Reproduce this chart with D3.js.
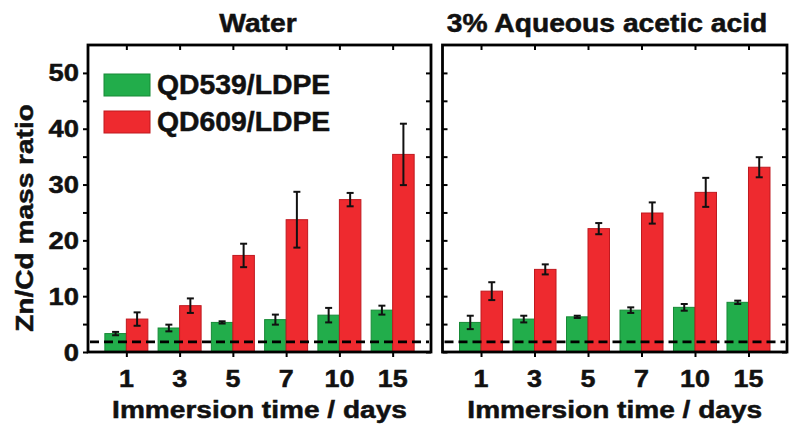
<!DOCTYPE html>
<html><head><meta charset="utf-8">
<script src="https://cdn.jsdelivr.net/npm/d3@7"></script>
<style>body{margin:0;background:#fff}</style></head>
<body><svg id="c" width="800" height="430"></svg>
<script>
const categories = ["1","3","5","7","10","15"];
const panelTitles = ["Water","3% Aqueous acetic acid"];
const seriesNames = ["QD539/LDPE","QD609/LDPE"];
const waterQD539 = [3.3,4.3,5.3,5.8,6.6,7.5];
const waterQD539Err = [0.3,0.6,0.2,0.9,1.3,0.8];
const waterQD609 = [5.9,8.3,17.3,23.7,27.3,35.4];
const waterQD609Err = [1.2,1.3,2.1,5.0,1.2,5.5];
const acidQD539 = [5.3,5.9,6.3,7.5,8.0,8.9];
const acidQD539Err = [1.2,0.6,0.2,0.5,0.6,0.3];
const acidQD609 = [10.9,14.8,22.1,24.9,28.6,33.1];
const acidQD609Err = [1.6,0.9,1.0,1.9,2.6,1.8];
const yTickLabels = [0,10,20,30,40,50];
const yMinorTicks = [0,5,10,15,20,25,30,35,40,45,50];
const threshold = 1.8;
const yTitle = "Zn/Cd mass ratio";
const xTitle = "Immersion time / days";

const svg = d3.select("#c");
const FONT = "'Liberation Sans', Arial, sans-serif";
const colors = ["#22ad4b","#ee2a2f"];
const strokes = ["#178a37","#c0191f"];
const plotTop = 45, plotBottom = 352;
const y = d3.scaleLinear().domain([0,55]).range([plotBottom, plotTop]);

function txt(x, yy, s, size, sx, anchor, rot, weight) {
  return svg.append("text")
    .attr("transform", `translate(${x},${yy}) rotate(${rot||0}) scale(${sx},1)`)
    .attr("text-anchor", anchor || "middle")
    .attr("font-family", FONT)
    .attr("font-weight", weight || "bold")
    .attr("font-size", size)
    .attr("fill", "#111")
    .attr("stroke", "#111")
    .attr("stroke-width", 0.5)
    .text(s);
}

const panels = [
  {x0: 88, x1: 431, title: panelTitles[0], titleX: 258, s: [waterQD539, waterQD609], e: [waterQD539Err, waterQD609Err], leftLabels: true},
  {x0: 442.5, x1: 787, title: panelTitles[1], titleX: 607, s: [acidQD539, acidQD609], e: [acidQD539Err, acidQD609Err], leftLabels: false}
];

const barW = 21.5;

panels.forEach(p => {
  const x = d3.scalePoint().domain(categories).range([p.x0, p.x1]).padding(0.72);
  const g = svg.append("g");

  // bars
  [0,1].forEach(si => {
    g.selectAll(null).data(categories).join("rect")
      .attr("x", d => si === 0 ? x(d) - barW : x(d))
      .attr("y", (d,i) => y(p.s[si][i]))
      .attr("width", barW)
      .attr("height", (d,i) => y(0) - y(p.s[si][i]))
      .attr("fill", colors[si])
      .attr("stroke", strokes[si])
      .attr("stroke-width", 1);
  });
  // error bars
  [0,1].forEach(si => {
    const cx = d => si === 0 ? x(d) - barW/2 : x(d) + barW/2;
    const eg = g.selectAll(null).data(categories).join("g");
    eg.append("line")
      .attr("x1", cx).attr("x2", cx)
      .attr("y1", (d,i) => y(p.s[si][i] - p.e[si][i]))
      .attr("y2", (d,i) => y(p.s[si][i] + p.e[si][i]))
      .attr("stroke", "#111").attr("stroke-width", 2);
    ["lo","hi"].forEach(k => {
      eg.append("line")
        .attr("x1", d => cx(d) - 3.5).attr("x2", d => cx(d) + 3.5)
        .attr("y1", (d,i) => y(p.s[si][i] + (k === "hi" ? 1 : -1) * p.e[si][i]))
        .attr("y2", (d,i) => y(p.s[si][i] + (k === "hi" ? 1 : -1) * p.e[si][i]))
        .attr("stroke", "#111").attr("stroke-width", 2);
    });
  });

  // dashed threshold
  g.append("line")
    .attr("x1", p.x0 + 2).attr("x2", p.x1 - 2)
    .attr("y1", y(threshold)).attr("y2", y(threshold))
    .attr("stroke", "#000").attr("stroke-width", 2.8)
    .attr("stroke-dasharray", "9,5");

  // axes ticks
  const styleAxis = sel => {
    sel.select(".domain").remove();
    sel.selectAll(".tick line").attr("stroke", "#000").attr("stroke-width", 2);
    sel.selectAll(".tick text").remove();
  };
  svg.append("g").attr("transform", `translate(${p.x0},0)`)
    .call(p.leftLabels ? d3.axisLeft(y).tickValues(yMinorTicks).tickSize(5)
                       : d3.axisRight(y).tickValues(yMinorTicks).tickSize(5))
    .call(styleAxis);
  svg.append("g").attr("transform", `translate(${p.x1},0)`)
    .call(d3.axisLeft(y).tickValues(yMinorTicks).tickSize(5))
    .call(styleAxis);
  svg.append("g").attr("transform", `translate(0,${plotBottom})`)
    .call(d3.axisBottom(x).tickSize(5)).call(styleAxis);
  svg.append("g").attr("transform", `translate(0,${plotTop})`)
    .call(d3.axisBottom(x).tickSize(5)).call(styleAxis);

  // frame
  svg.append("rect")
    .attr("x", p.x0).attr("y", plotTop)
    .attr("width", p.x1 - p.x0).attr("height", plotBottom - plotTop)
    .attr("fill", "none").attr("stroke", "#000").attr("stroke-width", 2.8);

  // x tick labels
  categories.forEach(c => txt(x(c), 387, c, 24, 1.12, "middle"));
  // x title
  txt((p.x0 + p.x1) / 2, 418, xTitle, 24, 1.17, "middle");
  // panel title
  txt(p.titleX, 32, p.title, 25, 1.13, "middle");

  if (p.leftLabels) {
    yTickLabels.forEach(v => txt(79, y(v) + 8.5, String(v), 24, 1.14, "end"));
  }
});

// y title
txt(33, 218, yTitle, 24, 1.17, "middle", -90);

// legend
seriesNames.forEach((n, i) => {
  const ly = 74 + i * 37;
  svg.append("rect").attr("x", 104).attr("y", ly).attr("width", 46).attr("height", 22)
    .attr("fill", colors[i]).attr("stroke", strokes[i]).attr("stroke-width", 1);
  txt(157, ly + 20, n, 27, 1.05, "start");
});
</script>
</body></html>
